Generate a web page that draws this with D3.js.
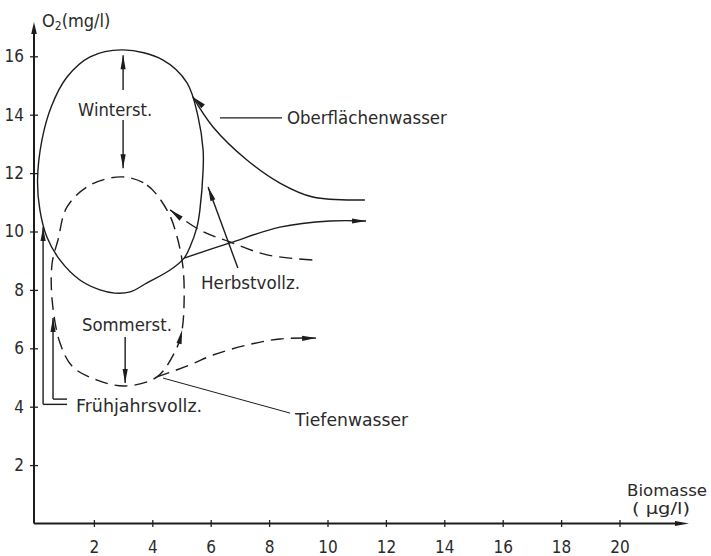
<!DOCTYPE html>
<html>
  <head>
    <script src="https://d3js.org/d3.v7.min.js"></script>
    <style>
    body { margin: 0; background: #fff; }
    text {
      font-family: "DejaVu Sans Condensed", "DejaVu Sans", sans-serif;
      fill: #2a2a2a;
    }
    .curve { fill: none; stroke: #1c1c1c; stroke-width: 1.4; }
    .dash { stroke-dasharray: 13,7; }
    .thin { stroke-width: 1; }
    </style>
  </head>
  <body>
    <script>

    // ---- data (x: Biomasse µg/l, y: O2 mg/l) ----
    var xTicks = [2, 4, 6, 8, 10, 12, 14, 16, 18, 20];
    var yTicks = [2, 4, 6, 8, 10, 12, 14, 16];

    // solid closed loop (winter stagnation)
    var winterLoop = [
      [3.00, 16.22], [4.37, 15.87], [5.19, 15.09], [5.57, 13.92], [5.74, 12.79],
      [5.74, 12.11], [5.63, 10.74], [5.53, 10.15], [5.29, 9.47], [5.09, 9.09],
      [4.61, 8.68], [3.82, 8.24], [3.24, 7.93], [2.72, 7.89], [2.21, 8.00],
      [1.52, 8.34], [0.84, 9.02], [0.39, 9.81], [0.15, 10.74], [0.07, 11.76],
      [0.22, 13.13], [0.55, 14.30], [1.08, 15.29], [1.87, 15.98]
    ];

    // dashed closed loop (summer stagnation)
    var summerLoop = [
      [2.96, 11.87], [3.82, 11.59], [4.54, 10.67], [4.85, 9.81], [5.05, 8.78],
      [5.09, 7.65], [5.02, 6.63], [4.85, 6.04], [4.16, 5.02], [3.07, 4.71],
      [2.11, 4.91], [1.28, 5.36], [0.84, 6.18], [0.57, 7.65], [0.57, 8.92],
      [0.77, 9.71], [1.08, 10.84], [1.87, 11.59]
    ];

    // surface water, falling branch (arrow at start)
    var surfaceDown = [[5.39, 14.61], [6.08, 13.58], [7.24, 12.45], [8.37, 11.66], [9.50, 11.18], [11.28, 11.08]];
    // surface water, rising branch (arrow at end)
    var surfaceUp = [[5.09, 9.09], [6.66, 9.61], [8.37, 10.15], [10.09, 10.36], [11.32, 10.36]];
    // dashed falling branch (arrow at start)
    var autumnDash = [[4.61, 10.74], [5.63, 10.05], [6.66, 9.64], [7.93, 9.20], [9.57, 9.02]];
    // deep water, dashed rising branch (arrow at end)
    var deepUp = [[4.16, 5.02], [5.29, 5.43], [6.08, 5.77], [7.24, 6.11], [8.37, 6.32], [9.61, 6.35]];

    // ---- layout ----
    var w = 711, h = 556;
    var x = d3.scaleLinear().domain([0, 20]).range([35.5, 35.5 + 20 * 29.2]);
    var y = d3.scaleLinear().domain([0, 16]).range([523.5, 523.5 - 16 * 29.2]);

    var svg = d3.select("body").append("svg")
      .attr("width", w)
      .attr("height", h);

    var line = d3.line()
      .x(function(d) { return x(d[0]); })
      .y(function(d) { return y(d[1]); })
      .curve(d3.curveCatmullRom.alpha(0.5));

    var loop = d3.line()
      .x(function(d) { return x(d[0]); })
      .y(function(d) { return y(d[1]); })
      .curve(d3.curveCatmullRomClosed.alpha(0.5));

    // slender filled arrow head, tip and a point behind it (pixels)
    function head(tx, ty, bx, by, len, half) {
      len = len || 14; half = half || 2.6;
      var a = Math.atan2(ty - by, tx - bx);
      var cx = tx - len * Math.cos(a), cy = ty - len * Math.sin(a);
      var px = -Math.sin(a) * half, py = Math.cos(a) * half;
      svg.append("path")
        .attr("d", "M" + tx + "," + ty + "L" + (cx + px) + "," + (cy + py) +
                   "L" + (cx - px) + "," + (cy - py) + "Z")
        .attr("fill", "#1c1c1c");
    }
    function headD(tip, base) {
      head(x(tip[0]), y(tip[1]), x(base[0]), y(base[1]));
    }

    // ---- axes ----
    var xAxis = d3.axisBottom(x).tickValues(xTicks).tickSize(3.5).tickPadding(14);
    var gx = svg.append("g")
      .attr("transform", "translate(0," + y(0) + ")")
      .call(xAxis);
    gx.select(".domain").remove();
    gx.selectAll(".tick line").attr("y1", -3.5).attr("stroke", "#222").attr("stroke-width", 1.3);
    gx.selectAll(".tick text").attr("font-size", 17).attr("fill", "#2a2a2a")
      .style("font-family", "'DejaVu Sans Condensed', 'DejaVu Sans', sans-serif");

    var yAxis = d3.axisLeft(y).tickValues(yTicks).tickSize(4).tickPadding(6);
    var gy = svg.append("g")
      .attr("transform", "translate(" + 34 + ",0)")
      .call(yAxis);
    gy.select(".domain").remove();
    gy.selectAll(".tick line").attr("x1", -4).attr("x2", 4).attr("stroke", "#222").attr("stroke-width", 1.3);
    gy.selectAll(".tick text").attr("font-size", 17).attr("fill", "#2a2a2a")
      .style("font-family", "'DejaVu Sans Condensed', 'DejaVu Sans', sans-serif");

    // axis lines with arrows
    svg.append("line").attr("x1", 34).attr("y1", y(0)).attr("x2", 34).attr("y2", 30)
      .attr("stroke", "#1c1c1c").attr("stroke-width", 2);
    head(34, 22, 34, 40, 12, 2.8);
    svg.append("line").attr("x1", 34).attr("y1", y(0)).attr("x2", 680).attr("y2", y(0))
      .attr("stroke", "#1c1c1c").attr("stroke-width", 2);
    head(689, y(0), 670, y(0), 14, 2.6);

    // axis titles
    var yTitle = svg.append("text").attr("x", 42).attr("y", 27).attr("font-size", 18);
    yTitle.append("tspan").text("O");
    yTitle.append("tspan").attr("font-size", 12).attr("dy", 3).text("2");
    yTitle.append("tspan").attr("dy", -3).text("(mg/l)");

    svg.append("text").attr("x", 627).attr("y", 496).attr("font-size", 15)
      .attr("textLength", 80).attr("lengthAdjust", "spacingAndGlyphs").text("Biomasse");
    svg.append("text").attr("x", 632).attr("y", 514).attr("font-size", 15)
      .attr("textLength", 58).attr("lengthAdjust", "spacingAndGlyphs").text("( µg/l)");

    // ---- curves ----
    svg.append("path").attr("class", "curve").attr("d", loop(winterLoop));
    svg.append("path").attr("class", "curve dash").attr("d", loop(summerLoop));
    svg.append("path").attr("class", "curve").attr("d", line(surfaceDown));
    svg.append("path").attr("class", "curve").attr("d", line(surfaceUp));
    svg.append("path").attr("class", "curve dash").attr("d", line(autumnDash));
    svg.append("path").attr("class", "curve dash").attr("d", line(deepUp));

    headD(surfaceDown[0], [5.87, 14.16]);
    headD(surfaceUp[surfaceUp.length - 1], [10.6, 10.36]);
    headD(autumnDash[0], [5.05, 10.39]);
    headD(deepUp[deepUp.length - 1], [8.9, 6.34]);
    headD([5.02, 6.63], [4.88, 6.0]);

    // ---- straight arrows and leaders ----
    var arrows = [
      { from: [3.0, 14.85], to: [3.0, 16.04] },
      { from: [3.0, 13.82], to: [3.0, 12.17] },
      { from: [3.07, 6.39], to: [3.07, 4.81] },
      { from: [6.93, 8.75], to: [5.91, 11.52] },
      { from: [0.26, 4.08], to: [0.26, 10.15] },
      { from: [0.60, 4.26], to: [0.60, 7.04] }
    ];
    arrows.forEach(function(a) {
      svg.append("line").attr("class", "curve")
        .attr("x1", x(a.from[0])).attr("y1", y(a.from[1]))
        .attr("x2", x(a.to[0])).attr("y2", y(a.to[1]));
      headD(a.to, a.from);
    });

    var leaders = [
      [[0.26, 4.08], [1.08, 4.08]],
      [[0.60, 4.26], [1.08, 4.26]],
      [[6.32, 13.89], [8.44, 13.89]],
      [[4.37, 4.98], [8.72, 3.78]]
    ];
    leaders.forEach(function(l, i) {
      svg.append("line").attr("class", i == 3 ? "curve thin" : "curve")
        .attr("x1", x(l[0][0])).attr("y1", y(l[0][1]))
        .attr("x2", x(l[1][0])).attr("y2", y(l[1][1]));
    });

    // ---- labels ----
    var labels = [
      { text: "Winterst.", at: [1.46, 13.96], len: 74 },
      { text: "Sommerst.", at: [1.59, 6.59], len: 90 },
      { text: "Oberflächenwasser", at: [8.61, 13.68], len: 160 },
      { text: "Herbstvollz.", at: [5.67, 8.03], len: 99 },
      { text: "Frühjahrsvollz.", at: [1.39, 3.82], len: 126 },
      { text: "Tiefenwasser", at: [8.89, 3.34], len: 113 }
    ];
    svg.selectAll(".lab")
      .data(labels)
      .enter()
      .append("text")
      .attr("class", "lab")
      .attr("x", function(d) { return x(d.at[0]); })
      .attr("y", function(d) { return y(d.at[1]); })
      .attr("font-size", 17)
      .attr("textLength", function(d) { return d.len; })
      .attr("lengthAdjust", "spacingAndGlyphs")
      .text(function(d) { return d.text; });

    </script>
  </body>
</html>
